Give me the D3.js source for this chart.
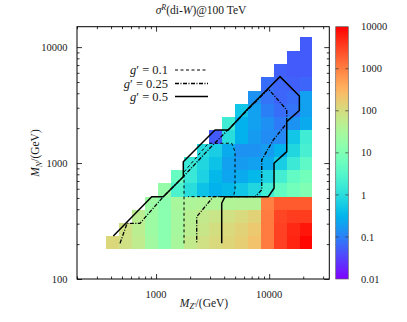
<!DOCTYPE html>
<html><head><meta charset="utf-8">
<script src="https://cdn.jsdelivr.net/npm/d3@7"></script>
<style>
body{margin:0;background:#fff}
svg{display:block}
text{font-family:"Liberation Serif","DejaVu Serif",serif;fill:#1a1a1a}
</style>
</head><body>
<svg id="c" width="407" height="322"></svg>
<script>
// ---- data ----
const mZ = [410, 535, 695, 905, 1180, 1535, 2000, 2600, 3380, 4400, 5730, 7460, 9710, 12640, 16450, 21180];
const mN = [205, 265, 345, 450, 585, 760, 990, 1290, 1680, 2180, 2840, 3700, 4820, 6270, 8170, 10640];
// row j lists sigma for M_Z' columns i = j .. 15
const sigmaRows = [
  [120, 85, 55, 25, 13, 30, 60, 85, 110, 130, 160, 220, 1100, 3200, 5500, 9000],
  [85, 50, 22, 13, 28, 50, 70, 95, 115, 140, 190, 1100, 3200, 5000, 7000],
  [50, 22, 13, 28, 45, 60, 75, 90, 110, 140, 1100, 3000, 3500, 3500],
  [22, 13, 30, 35, 38, 38, 38, 40, 40, 1000, 2000, 2000, 2000],
  [18, 2.5, 1.0, 0.45, 0.3, 0.35, 0.5, 0.8, 1.8, 4.5, 7, 10],
  [5, 1.5, 0.7, 0.35, 0.22, 0.25, 0.35, 0.7, 2, 4.5, 7],
  [1.5, 0.8, 0.45, 0.2, 0.18, 0.2, 0.25, 0.6, 1.6, 4],
  [0.9, 0.6, 0.25, 0.15, 0.15, 0.18, 0.3, 0.8, 2.2],
  [0.05, 1.0, 0.3, 0.18, 0.13, 0.12, 0.5, 1.8],
  [1.8, 0.3, 0.2, 0.14, 0.09, 0.15, 0.25],
  [0.5, 0.2, 0.1, 0.07, 0.08, 0.2],
  [0.15, 0.08, 0.06, 0.07, 0.2],
  [0.07, 0.06, 0.055, 0.06],
  [0.055, 0.05, 0.05],
  [0.05, 0.05],
  [0.05]
];
const contourG05 = [[419,235],[915,513],[1159,513],[1741,763],[1741,1028],[3320,1930],[4354,1930],[6331,2872],[9513,4273],[12470,5566],[18480,3792],[18480,2843],[14300,2276],[14300,1254],[11040,996],[11040,606],[9828,513],[4070,513],[3805,450],[3805,203]];
const contourG025 = [[480,203],[554,302],[721,302],[1159,513],[1741,763],[3000,1350],[9828,4358],[14300,2872],[14300,2205],[10880,1582],[8595,1064],[8595,586],[7497,513],[3208,513],[2288,345],[2288,203]];
const contourG01 = [[1767,203],[1767,838],[2897,1482],[4665,1482],[4990,1254],[4990,586],[4820,513],[1916,513]];
const legendLabels = ["0.1", "0.25", "0.5"];
const xTickVals = [1000, 10000];
const yTickVals = [100, 1000, 10000];
const cbTickVals = [0.01, 0.1, 1, 10, 100, 1000, 10000];
const cbTickLabels = ["0.01", "0.1", "1", "10", "100", "1000", "10000"];

// ---- layout ----
const L = 77, R = 329.3, T = 26.7, B = 279;
const svg = d3.select("#c");
const x = d3.scaleLog().domain([200, 34000]).range([L, R]);
const y = d3.scaleLog().domain([100, 15000]).range([B, T]);
const pal = t => {
  const r = Math.min(1, Math.abs(2 * t - 0.5));
  const g = Math.max(0, Math.sin(Math.PI * t));
  const b = Math.max(0, Math.cos(Math.PI * t / 2));
  return d3.rgb(r * 255, g * 255, b * 255).formatHex();
};
const color = d3.scaleSequentialLog(pal).domain([0.01, 10000]).clamp(true);

function edges(a) {
  const n = a.length, e = [];
  e.push(a[0] / Math.sqrt(a[1] / a[0]));
  for (let k = 1; k < n; k++) e.push(Math.sqrt(a[k - 1] * a[k]));
  e.push(a[n - 1] * Math.sqrt(a[n - 1] / a[n - 2]));
  return e;
}
const ex = edges(mZ), ey = edges(mN);
const cells = [];
sigmaRows.forEach((row, j) => row.forEach((v, k) => { const i = j + k; cells.push({i, j, v}); }));

svg.append("g").attr("shape-rendering", "crispEdges")
  .selectAll("rect").data(cells).join("rect")
  .attr("x", d => Math.round(x(ex[d.i])))
  .attr("width", d => Math.round(x(ex[d.i + 1])) - Math.round(x(ex[d.i])))
  .attr("y", d => Math.round(y(ey[d.j + 1])))
  .attr("height", d => Math.round(y(ey[d.j])) - Math.round(y(ey[d.j + 1])))
  .attr("fill", d => color(d.v));

// contours
const line = d3.line().x(d => x(d[0])).y(d => y(d[1]));
const cg = svg.append("g").attr("fill", "none").attr("stroke", "#000").attr("stroke-linejoin", "round");
cg.append("path").attr("d", line(contourG01)).attr("stroke-width", 1).attr("stroke-dasharray", "3,2.5");
cg.append("path").attr("d", line(contourG025)).attr("stroke-width", 1.3).attr("stroke-dasharray", "4,1.5,1,1.5");
cg.append("path").attr("d", line(contourG05)).attr("stroke-width", 1.5);

// axes (inward ticks, mirrored)
function minors(dom) {
  const out = [];
  for (let p = 10; p <= 100000; p *= 10) for (let m = 2; m <= 9; m++) { const v = m * p / 10; if (v >= dom[0] && v <= dom[1]) out.push(v); }
  return out;
}
const ax = svg.append("g").attr("font-size", 10.5);
const mk = (axis, tr) => { const g = ax.append("g").attr("transform", tr).call(axis); g.select(".domain").remove(); g.selectAll("text").remove(); g.selectAll("line").attr("stroke", "#000").attr("stroke-width", 0.8); };
mk(d3.axisBottom(x).tickValues(xTickVals).tickSize(-5), `translate(0,${B})`);
mk(d3.axisBottom(x).tickValues(minors(x.domain())).tickSize(-2.5), `translate(0,${B})`);
mk(d3.axisTop(x).tickValues(xTickVals).tickSize(-5), `translate(0,${T})`);
mk(d3.axisTop(x).tickValues(minors(x.domain())).tickSize(-2.5), `translate(0,${T})`);
mk(d3.axisLeft(y).tickValues(yTickVals).tickSize(-5), `translate(${L},0)`);
mk(d3.axisLeft(y).tickValues(minors(y.domain())).tickSize(-2.5), `translate(${L},0)`);
mk(d3.axisRight(y).tickValues(yTickVals).tickSize(-5), `translate(${R},0)`);
mk(d3.axisRight(y).tickValues(minors(y.domain())).tickSize(-2.5), `translate(${R},0)`);
svg.append("rect").attr("x", L).attr("y", T).attr("width", R - L).attr("height", B - T)
  .attr("fill", "none").attr("stroke", "#000").attr("stroke-width", 1);

ax.selectAll(".xl").data(xTickVals).join("text").attr("x", d => x(d)).attr("y", 298.3)
  .attr("text-anchor", "middle").text(d => d3.format("d")(d));
ax.selectAll(".yl").data(yTickVals).join("text").attr("x", 67.5).attr("y", d => y(d) + 3.6)
  .attr("text-anchor", "end").text(d => d3.format("d")(d));

// colorbar
const cbL = 335.7, cbR = 348.3;
const cy = d3.scaleLog().domain([0.01, 10000]).range([B, T]);
const grad = svg.append("defs").append("linearGradient").attr("id", "cbg")
  .attr("x1", 0).attr("y1", 1).attr("x2", 0).attr("y2", 0);
d3.range(0, 1.0001, 0.02).forEach(t => grad.append("stop").attr("offset", t).attr("stop-color", color(Math.pow(10, t * 6 - 2))));
svg.append("rect").attr("x", cbL).attr("y", T).attr("width", cbR - cbL).attr("height", B - T)
  .attr("fill", "url(#cbg)").attr("stroke", "#666").attr("stroke-width", 0.7);
const cbt = svg.append("g").attr("stroke", "#333").attr("stroke-width", 0.7);
cbTickVals.slice(1, -1).forEach(v => {
  cbt.append("line").attr("x1", cbL).attr("x2", cbL + 3).attr("y1", cy(v)).attr("y2", cy(v));
  cbt.append("line").attr("x1", cbR - 3).attr("x2", cbR).attr("y1", cy(v)).attr("y2", cy(v));
});
svg.append("g").attr("font-size", 10.5).selectAll("text").data(cbTickVals).join("text")
  .attr("x", 361).attr("y", d => cy(d) + 3.6).text((d, k) => cbTickLabels[k]);

// titles
const title = svg.append("text").attr("x", 201).attr("y", 14).attr("text-anchor", "middle").attr("font-size", 11.5);
title.append("tspan").attr("font-style", "italic").text("σ");
title.append("tspan").attr("font-style", "italic").attr("font-size", 8).attr("dy", -4.5).text("R");
title.append("tspan").attr("dy", 4.5).text("(di-");
title.append("tspan").attr("font-style", "italic").text("W");
title.append("tspan").text(")@100 TeV");

const xt = svg.append("text").attr("x", 204).attr("y", 306.5).attr("text-anchor", "middle").attr("font-size", 11.5);
xt.append("tspan").attr("font-style", "italic").text("M");
xt.append("tspan").attr("font-style", "italic").attr("font-size", 8).attr("dy", 2.5).text("Z′");
xt.append("tspan").attr("dy", -2.5).text("/(GeV)");

const yt = svg.append("text").attr("transform", "translate(39,153) rotate(-90)").attr("text-anchor", "middle").attr("font-size", 11.5);
yt.append("tspan").attr("font-style", "italic").text("M");
yt.append("tspan").attr("font-style", "italic").attr("font-size", 8).attr("dy", 2.5).text("N");
yt.append("tspan").attr("dy", -2.5).text("/(GeV)");

// legend
const legY = [70, 83.5, 96.5];
const dashes = ["3,2.5", "4,1.5,1,1.5", null];
const widths = [1, 1.3, 1.5];
const lg = svg.append("g").attr("font-size", 12.5);
legendLabels.forEach((lab, k) => {
  const t = lg.append("text").attr("x", 168).attr("y", legY[k] + 4).attr("text-anchor", "end");
  t.append("tspan").attr("font-style", "italic").text("g");
  t.append("tspan").text("′ = " + lab);
  const l = lg.append("line").attr("x1", 175).attr("x2", 208).attr("y1", legY[k]).attr("y2", legY[k])
    .attr("stroke", "#000").attr("stroke-width", widths[k]);
  if (dashes[k]) l.attr("stroke-dasharray", dashes[k]);
});
</script>
</body></html>
